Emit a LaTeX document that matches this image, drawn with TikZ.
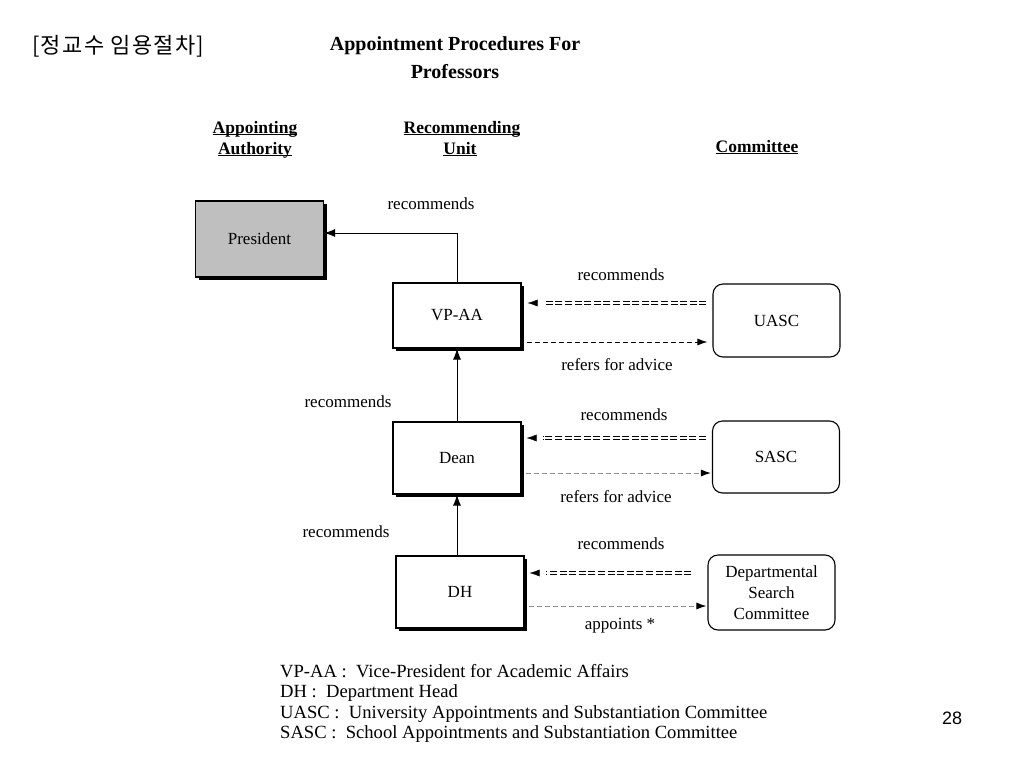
\documentclass[tikz,border=0pt]{standalone}
\usepackage{fontspec}
\setmainfont{Liberation Serif}
\newfontfamily\kfont{Noto Sans CJK KR}[LetterSpace=6]
\newfontfamily\numfont{Liberation Sans}
\usetikzlibrary{arrows.meta,shadows}

\newcommand\headul[1]{\setbox0\hbox{#1}\rlap{\rule[-2.2pt]{\wd0}{1.1pt}}\box0}

\tikzset{
  unitbox/.style={draw,line width=1.2pt,minimum width=128pt,inner sep=0pt,fill=white,
    font=\fontsize{17}{20}\selectfont,
    drop shadow={shadow xshift=3pt,shadow yshift=-3pt,fill=black,opacity=1}},
  combox/.style={draw,line width=1.1pt,rounded corners=10pt,minimum width=127pt,inner sep=0pt,
    align=center,font=\fontsize{17}{21}\selectfont},
  upline/.style={line width=0.9pt,-{Latex[length=11pt,width=8pt]}},
  recline/.style={draw=white,-{Latex[color=black,length=10pt,width=7pt]},
    postaction={draw=black,-,line width=1.3pt,double=white,double distance=1.6pt,
      dash pattern=on 7pt off 2.6pt,shorten >=16pt}},
  refline/.style={line width=1pt,dash pattern=on 5pt off 3pt,-{Latex[length=10pt,width=7pt]}},
  greyline/.style={refline,draw=black!45,-{Latex[color=black,length=10pt,width=7pt]}},
  lbl/.style={anchor=base,inner sep=0pt,font=\fontsize{17}{20}\selectfont},
  head/.style={anchor=base,inner sep=0pt,font=\bfseries\fontsize{17.5}{21}\selectfont}
}

\begin{document}
\begin{tikzpicture}[x=1pt,y=-1pt]
  \useasboundingbox (0,0) rectangle (1024,768);
  % titles
  \node[anchor=west,inner sep=0pt,font=\kfont\fontsize{22}{26}\selectfont] (ktitle) at (32,46) {[정교수 임용절차]};
  \node[head,font=\bfseries\fontsize{20}{24}\selectfont] (title1) at (455,50) {Appointment Procedures For};
  \node[head,font=\bfseries\fontsize{20}{24}\selectfont] (title2) at (455,78) {Professors};
  \node[head] (hauth1) at (255,133) {\headul{Appointing}};
  \node[head] (hauth2) at (255,154) {\headul{Authority}};
  \node[head] (hunit1) at (462,133) {\headul{Recommending}};
  \node[head] (hunit2) at (460,154) {\headul{Unit}};
  \node[head] (hcom) at (757,152) {\headul{Committee}};

  % boxes
  \node[unitbox,minimum height=76pt,fill=black!25] (president) at (259.5,239) {President};
  \node[unitbox,minimum height=65pt] (vpaa) at (457,315.5) {VP-AA};
  \node[unitbox,minimum height=72pt] (dean) at (457,458) {Dean};
  \node[unitbox,minimum height=72pt] (dh) at (460,592) {DH};
  \node[combox,minimum height=73pt] (uasc) at (776.5,320.5) {UASC};
  \node[combox,minimum height=72pt] (sasc) at (776,457) {SASC};
  \node[combox,minimum height=75pt] (dsc) at (771.5,592.5) {Departmental\\Search\\Committee};

  % recommending chain
  \draw[upline] (vpaa.north) |- ([yshift=6pt]president.east);
  \draw[upline] (dean.north) -- (vpaa.south);
  \draw[upline] (dean.south |- dh.north) -- (dean.south);

  % committees
  \draw[recline] ([xshift=-6pt,yshift=17.5pt]uasc.west) -- ([xshift=6pt,yshift=12.5pt]vpaa.east);
  \draw[refline] ([xshift=5pt,yshift=-26.5pt]vpaa.east) -- ([xshift=-5pt,yshift=-21.5pt]uasc.west);
  \draw[recline] ([xshift=-6pt,yshift=19pt]sasc.west) -- ([xshift=5pt,yshift=20pt]dean.east);
  \draw[greyline] ([xshift=4pt,yshift=-15pt]dean.east) -- ([xshift=-1pt,yshift=-16pt]sasc.west);
  \draw[recline] ([xshift=-16pt,yshift=19.5pt]dsc.west) -- ([xshift=5pt,yshift=19pt]dh.east);
  \draw[greyline] ([xshift=4pt,yshift=-14pt]dh.east) -- ([xshift=-1pt,yshift=-13.5pt]dsc.west);

  % labels
  \node[lbl] (recpres) at (431,209) {recommends};
  \node[lbl] (recvp) at (348,407) {recommends};
  \node[lbl] (recdean) at (346,537) {recommends};
  \node[lbl] (recuasc) at (621,280) {recommends};
  \node[lbl] (refuasc) at (617,370) {refers for advice};
  \node[lbl] (recsasc) at (624,420) {recommends};
  \node[lbl] (refsasc) at (616,502) {refers for advice};
  \node[lbl] (recdsc) at (621,549) {recommends};
  \node[lbl] (appdsc) at (620,629) {appoints *};

  % legend
  \foreach \abbr/\full [count=\n] in {VP-AA/Vice-President for Academic Affairs,
      DH/Department Head,
      UASC/University Appointments and Substantiation Committee,
      SASC/School Appointments and Substantiation Committee}
    \node[anchor=base west,inner sep=0pt,font=\fontsize{18.6}{21}\selectfont] (legend\n) at (280,656.5+20.5*\n) {\abbr{} :\ \ \full};
  \node[anchor=base,inner sep=0pt,font=\numfont\fontsize{18}{21}\selectfont] (pagenum) at (952,724) {28};
\end{tikzpicture}
\end{document}
